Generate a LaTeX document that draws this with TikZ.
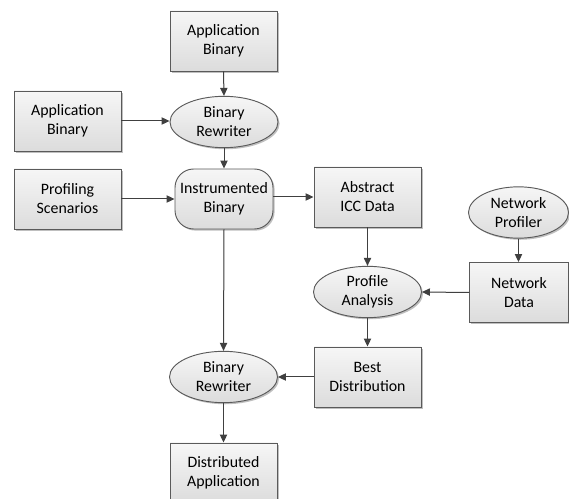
\documentclass[tikz,border=0pt]{standalone}
\usepackage{fontspec}
\setmainfont{Carlito}
\usetikzlibrary{shapes.geometric,arrows.meta,shadows}
\definecolor{edgegray}{HTML}{404040}
\definecolor{bordergray}{HTML}{5A5A5A}
\definecolor{filltop}{HTML}{F6F6F6}
\definecolor{fillbot}{HTML}{DCDCDC}
\tikzset{
  base/.style={draw=bordergray, line width=0.7pt, top color=filltop, bottom color=fillbot,
    align=center, inner sep=0pt, text=black,
    font=\fontsize{11.9}{14.3}\selectfont,
    drop shadow={shadow xshift=1.2pt, shadow yshift=-1.2pt, opacity=0.25, fill=black}},
  box/.style={base, rectangle, minimum width=80.25pt, minimum height=45pt},
  oval/.style={base, ellipse, minimum width=81pt, minimum height=38.5pt},
  rbox/.style={base, rectangle, rounded corners=14pt, minimum width=73.5pt, minimum height=45pt},
  conn/.style={draw=edgegray, line width=0.75pt, -{Triangle[length=6pt,width=5.5pt]}, fill=edgegray},
}
\begin{document}
\begin{tikzpicture}[x=0.75pt,y=-0.75pt]
\useasboundingbox (0,0) rectangle (569,499);
\clip (0,0) rectangle (569,499);
\node[box] (app1) at (223.5,41) {Application\\Binary};
\node[box] (app2) at (67.5,121) {Application\\Binary};
\node[oval] (rw1) at (224,122) {Binary\\Rewriter};
\node[box] (prof) at (67.5,199) {Profiling\\Scenarios};
\node[rbox] (instr) at (224,199) {Instrumented\\Binary};
\node[box] (abs) at (367.5,197) {Abstract\\ICC Data};
\node[oval, minimum width=75pt] (np) at (518.5,212.5) {Network\\Profiler};
\node[oval] (pa) at (367.5,292) {Profile\\Analysis};
\node[box, minimum width=74pt] (nd) at (519,292.5) {Network\\Data};
\node[box] (best) at (367.5,377) {Best\\Distribution};
\node[oval] (rw2) at (223.5,377) {Binary\\Rewriter};
\node[box] (dist) at (223.5,473) {Distributed\\Application};

\draw[conn] (app1.south) -- (rw1.north);
\draw[conn] (app2.east) -- (app2.east -| rw1.west);
\draw[conn] (rw1.south) -- (instr.north);
\draw[conn] (prof.east) -- (prof.east -| instr.west);
\draw[conn] (instr.east |- abs.west) -- (abs.west);
\draw[conn] (instr.south) -- (rw2.north);
\draw[conn] (abs.south) -- (pa.north);
\draw[conn] (np.south) -- (np.south |- nd.north);
\draw[conn] (nd.west) -- (pa.east);
\draw[conn] (pa.south) -- (best.north);
\draw[conn] (best.west) -- (rw2.east);
\draw[conn] (rw2.south) -- (dist.north);
\end{tikzpicture}
\end{document}
